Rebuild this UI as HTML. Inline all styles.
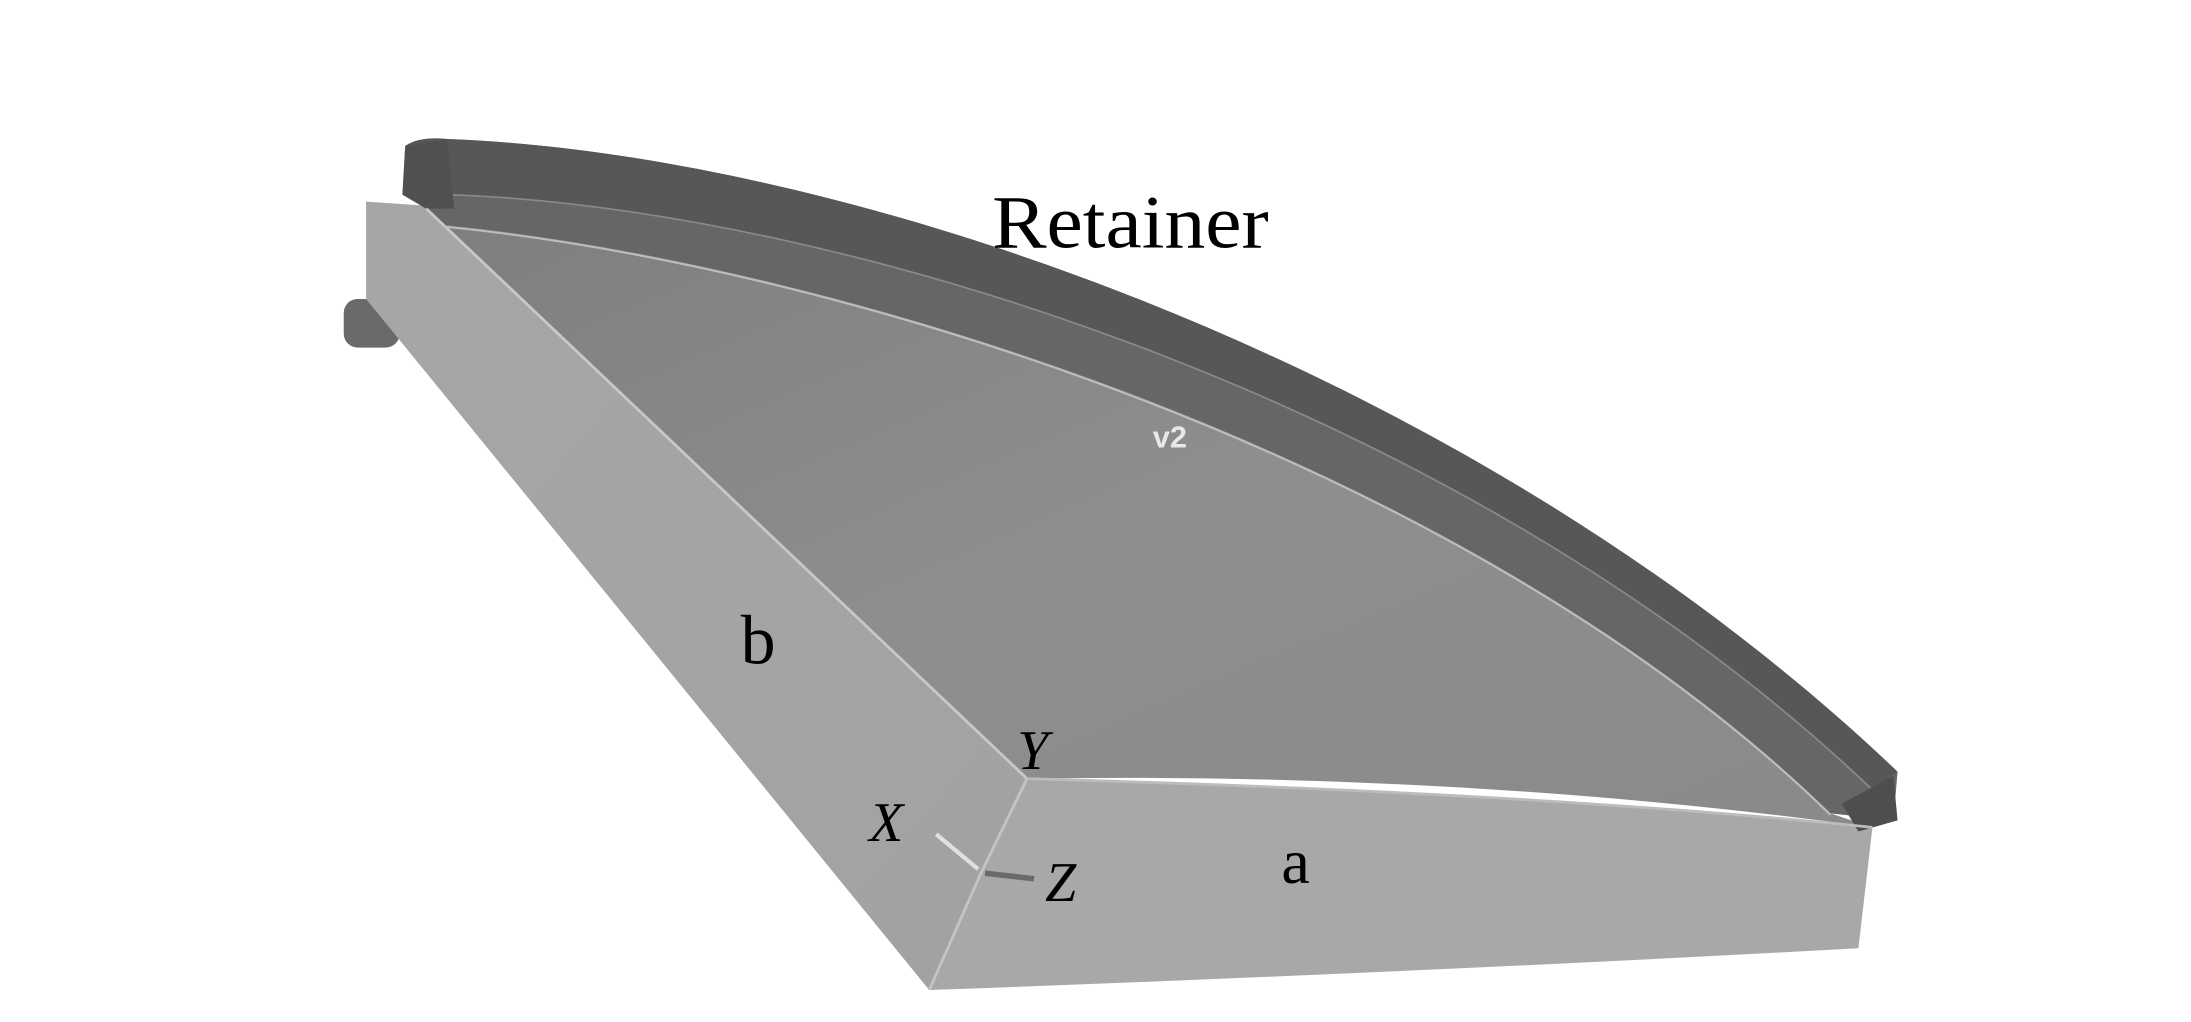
<!DOCTYPE html>
<html><head><meta charset="utf-8"><style>
html,body{margin:0;padding:0;background:#fff;width:2191px;height:1022px;overflow:hidden}
svg{display:block}
</style></head><body>
<svg width="2191" height="1022" viewBox="0 0 1568 735" preserveAspectRatio="none" xmlns="http://www.w3.org/2000/svg">
<defs>
<linearGradient id="top" x1="0" y1="0" x2="1" y2="1">
<stop offset="0" stop-color="#7e7e7e"/><stop offset="0.5" stop-color="#8e8e8e"/><stop offset="1" stop-color="#8a8a8a"/>
</linearGradient>
<linearGradient id="side" x1="0" y1="0" x2="1" y2="1">
<stop offset="0" stop-color="#a6a6a6"/><stop offset="1" stop-color="#a2a2a2"/>
</linearGradient>
</defs>
<rect x="246" y="215" width="40" height="35" rx="10" fill="#6a6a6a"/>
<rect x="1262" y="662" width="50" height="20" rx="8" fill="#707070"/>
<polygon points="262,145 305,148 735,560 702,628 665,712 262,215" fill="url(#side)"/>
<path d="M735,560 Q1100,570 1340,595 L1330,682 Q1000,700 665,712 L702,628 Z" fill="#a8a8a8"/>
<path d="M305,150 L318,162 C600,190 1050,330 1310,585 L1340,595 Q1050,555 735,560 Z" fill="url(#top)"/>
<path d="M290,105 Q300,98 320,100 C600,110 1050,260 1358,555 L1355,590 L1310,585 C1050,330 600,190 318,162 L305,150 L288,140 Z" fill="#666666"/>
<path d="M290,105 Q300,98 320,100 C600,110 1050,260 1358,555 L1340,568 C1050,290 600,150 322,140 Z" fill="#575757"/>
<path d="M322,140 C600,150 1050,290 1340,568" stroke="#8a8a8a" stroke-width="1.2" fill="none"/>
<path d="M290,105 L320,100 L325,150 L305,150 L288,140 Z" fill="#505050"/>
<path d="M1318,578 L1355,558 L1358,590 L1330,598 Z" fill="#4e4e4e"/>
<path d="M305,150 L735,560" stroke="#c8c8c8" stroke-width="2" fill="none"/>
<path d="M318,163 C600,191 1050,331 1310,586" stroke="#bdbdbd" stroke-width="1.5" fill="none"/>
<path d="M735,560 L702,628 L665,712" stroke="#c4c4c4" stroke-width="2" fill="none"/>
<path d="M735,560 Q1100,570 1340,595" stroke="#bcbcbc" stroke-width="2" fill="none"/>
<path d="M670,600 L700,625" stroke="#e0e0e0" stroke-width="3"/>
<path d="M705,628 L740,632" stroke="#6a6a6a" stroke-width="4"/>
<text x="710" y="178" font-family="Liberation Serif, serif" font-size="54" textLength="198" lengthAdjust="spacingAndGlyphs" fill="#000">Retainer</text>
<text x="825" y="322" font-family="Liberation Sans, sans-serif" font-size="22" font-weight="bold" fill="#e8e8e8">v2</text>
<text x="530" y="477" font-family="Liberation Serif, serif" font-size="50" fill="#000">b</text>
<text x="917" y="635" font-family="Liberation Serif, serif" font-size="46" fill="#000">a</text>
<text x="728" y="553" font-family="Liberation Serif, serif" font-style="italic" font-size="40" fill="#000">Y</text>
<text x="622" y="605" font-family="Liberation Serif, serif" font-style="italic" font-size="40" fill="#000">X</text>
<text x="748" y="648" font-family="Liberation Serif, serif" font-style="italic" font-size="40" fill="#000">Z</text>
</svg>
</body></html>
